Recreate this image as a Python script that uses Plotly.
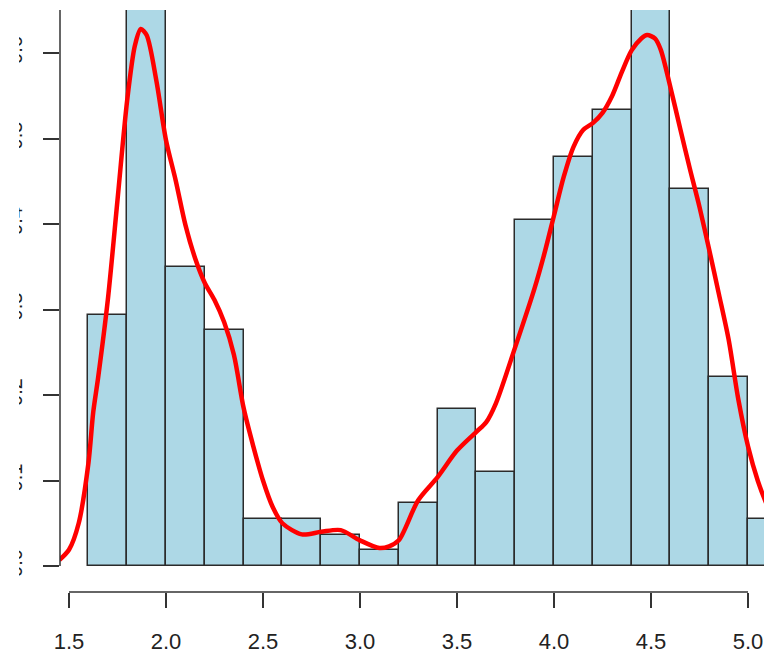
import plotly.graph_objects as go

# Histogram (probability density, bin width 0.2)
bin_left = [1.6, 1.8, 2.0, 2.2, 2.4, 2.6, 2.8, 3.0, 3.2, 3.4, 3.6, 3.8, 4.0, 4.2, 4.4, 4.6, 4.8, 5.0]
counts = [16, 39, 19, 15, 3, 3, 2, 1, 4, 10, 6, 22, 26, 29, 38, 24, 12, 3]
n_total = 272
bin_width = 0.2
density = [c / (n_total * bin_width) for c in counts]

# Kernel density curve
kde_x = [1.45, 1.5, 1.55, 1.6, 1.625, 1.65, 1.7, 1.75, 1.8, 1.84, 1.87, 1.9, 1.95, 2.0,
         2.05, 2.1, 2.15, 2.2, 2.25, 2.3, 2.35, 2.4, 2.45, 2.5, 2.55, 2.6, 2.7, 2.8, 2.9,
         3.0, 3.1, 3.15, 3.2, 3.3, 3.4, 3.5, 3.6, 3.65, 3.7, 3.8, 3.9, 3.95, 4.0, 4.05,
         4.1, 4.15, 4.2, 4.25, 4.3, 4.35, 4.4, 4.45, 4.48, 4.52, 4.55, 4.6, 4.65, 4.7,
         4.75, 4.8, 4.85, 4.9, 4.95, 5.0, 5.05, 5.1, 5.15]
kde_y = [0.007, 0.019, 0.05, 0.12, 0.18, 0.22, 0.311, 0.428, 0.545, 0.609, 0.628, 0.621,
         0.568, 0.498, 0.451, 0.399, 0.36, 0.331, 0.311, 0.285, 0.247, 0.185, 0.14, 0.10,
         0.069, 0.05, 0.037, 0.04, 0.042, 0.03, 0.021, 0.023, 0.03, 0.077, 0.104, 0.135,
         0.157, 0.168, 0.19, 0.256, 0.325, 0.365, 0.41, 0.455, 0.49, 0.51, 0.518, 0.53, 0.55,
         0.578, 0.603, 0.617, 0.621, 0.617, 0.604, 0.56, 0.512, 0.465, 0.42, 0.37, 0.318,
         0.265, 0.195, 0.14, 0.10, 0.07, 0.045]

x_ticks = [1.5, 2.0, 2.5, 3.0, 3.5, 4.0, 4.5, 5.0]
x_tick_labels = ["1.5", "2.0", "2.5", "3.0", "3.5", "4.0", "4.5", "5.0"]
y_ticks = [0.0, 0.1, 0.2, 0.3, 0.4, 0.5, 0.6]
y_tick_labels = ["0.0", "0.1", "0.2", "0.3", "0.4", "0.5", "0.6"]

centers = [b + bin_width / 2 for b in bin_left]
axis_col = "#333333"

fig = go.Figure()
fig.add_trace(go.Bar(
    x=centers, y=density, width=[bin_width] * len(centers),
    marker=dict(color="#ADD8E6", line=dict(color="#2b2b2b", width=1.5)),
    hoverinfo="skip",
))
fig.add_trace(go.Scatter(
    x=kde_x, y=kde_y, mode="lines",
    line=dict(color="#ff0000", width=4.5, shape="spline", smoothing=0.8),
    hoverinfo="skip",
))

plot_w = 704
x_lo = 1.4536
x_hi = x_lo + plot_w / 194.0
y_lo, y_hi = -0.0304, 0.6503

fig.update_layout(
    width=764, height=653,
    margin=dict(l=60, r=0, t=10, b=61, autoexpand=False),
    paper_bgcolor="white", plot_bgcolor="white",
    showlegend=False, bargap=0,
    font=dict(family="Liberation Sans, Arial, sans-serif", color="#222222"),
    xaxis=dict(range=[x_lo, x_hi], showgrid=False, zeroline=False, showline=False,
               automargin=False,
               tickmode="array", tickvals=x_ticks, ticktext=x_tick_labels,
               ticks="outside", ticklen=15, tickwidth=1.5, tickcolor=axis_col,
               tickfont=dict(size=22), ticklabelstandoff=15),
    yaxis=dict(range=[y_lo, y_hi], showgrid=False, zeroline=False, showline=False,
               automargin=False,
               tickmode="array", tickvals=y_ticks, ticktext=y_tick_labels,
               ticks="outside", ticklen=16, tickwidth=1.5, tickcolor=axis_col,
               tickangle=-90, tickfont=dict(size=20), ticklabelstandoff=13),
    shapes=[
        dict(type="line", xref="x", yref="paper", x0=1.5, x1=5.0, y0=0, y1=0,
             line=dict(color=axis_col, width=1.5), layer="above"),
        dict(type="line", xref="paper", yref="y", x0=0, x1=0, y0=0, y1=y_hi,
             line=dict(color=axis_col, width=1.5), layer="above"),
        dict(type="rect", xref="paper", yref="paper", x0=-60 / plot_w, x1=-41 / plot_w,
             y0=-0.2, y1=1.1, fillcolor="white", line=dict(width=0), layer="above"),
    ],
)

fig.write_html("out.html", config={"displayModeBar": False},
               post_script="document.body.style.margin='0';")
